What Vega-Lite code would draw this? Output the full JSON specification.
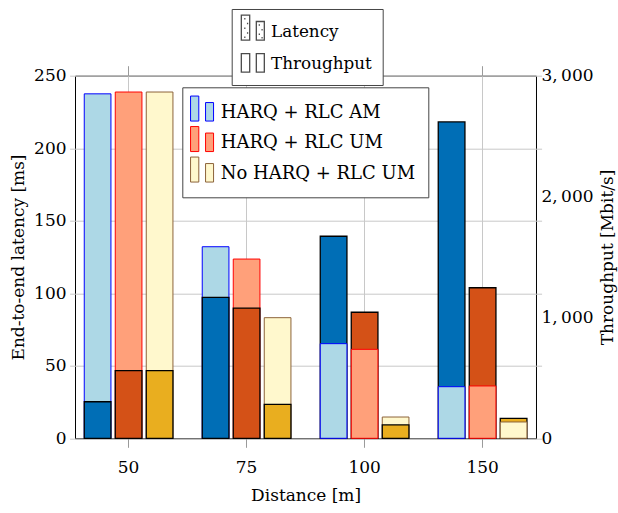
{
  "$schema": "https://vega.github.io/schema/vega-lite/v6.json",
  "width": 461,
  "height": 362.6,
  "autosize": {"type": "none"},
  "padding": {"left": 75, "top": 75.7, "right": 82, "bottom": 75},
  "background": "white",
  "config": {
    "font": "DejaVu Serif",
    "view": {"stroke": "black", "strokeWidth": 1},
    "axis": {
      "labelFont": "DejaVu Serif",
      "titleFont": "DejaVu Serif",
      "labelFontSize": 17,
      "titleFontSize": 17,
      "labelColor": "black",
      "titleColor": "black",
      "titleFontWeight": "normal",
      "domain": false,
      "gridColor": "#c8c8c8",
      "gridWidth": 1,
      "tickColor": "#9a9a9a"
    },
    "legend": {
      "labelFont": "DejaVu Serif",
      "labelFontSize": 18,
      "labelColor": "black",
      "labelLimit": 400,
      "strokeColor": "#444444",
      "fillColor": "white"
    }
  },
  "data": {
    "values": [
      {"distance": "50", "config": "HARQ + RLC AM", "latency": 25.2, "throughput": 2850},
      {"distance": "50", "config": "HARQ + RLC UM", "latency": 46.6, "throughput": 2865},
      {"distance": "50", "config": "No HARQ + RLC UM", "latency": 46.6, "throughput": 2865},
      {"distance": "75", "config": "HARQ + RLC AM", "latency": 97.2, "throughput": 1585},
      {"distance": "75", "config": "HARQ + RLC UM", "latency": 89.8, "throughput": 1483},
      {"distance": "75", "config": "No HARQ + RLC UM", "latency": 23.4, "throughput": 998},
      {"distance": "100", "config": "HARQ + RLC AM", "latency": 139.3, "throughput": 783},
      {"distance": "100", "config": "HARQ + RLC UM", "latency": 86.9, "throughput": 736},
      {"distance": "100", "config": "No HARQ + RLC UM", "latency": 9.2, "throughput": 176},
      {"distance": "150", "config": "HARQ + RLC AM", "latency": 218.1, "throughput": 427},
      {"distance": "150", "config": "HARQ + RLC UM", "latency": 103.8, "throughput": 433},
      {"distance": "150", "config": "No HARQ + RLC UM", "latency": 13.8, "throughput": 135}
    ]
  },
  "layer": [
    {
      "transform": [{"filter": "datum.throughput / 12 >= datum.latency"}],
      "mark": {"type": "bar", "xOffset": 4.3, "strokeWidth": 1},
      "encoding": {
        "x": {
          "field": "distance", "type": "nominal", "sort": ["50", "75", "100", "150"],
          "scale": {"range": [-5.4, 466.6], "paddingInner": 0, "paddingOuter": 0},
          "axis": {"orient": "bottom", "title": "Distance [m]", "labelAngle": 0, "grid": true, "ticks": true, "tickSize": 9, "labelPadding": 12, "titlePadding": 12}
        },
        "xOffset": {
          "field": "config", "type": "nominal",
          "sort": ["HARQ + RLC AM", "HARQ + RLC UM", "No HARQ + RLC UM"],
          "scale": {"paddingInner": 0.139, "paddingOuter": 0.4725}
        },
        "y": {
          "field": "throughput", "type": "quantitative",
          "scale": {"domain": [0, 3000], "nice": false},
          "axis": {"orient": "right", "title": "Throughput [Mbit/s]", "values": [0, 1000, 2000, 3000], "grid": false, "ticks": false, "labelPadding": 5, "titleAngle": 270, "titleBaseline": "top", "titlePadding": 6, "labelExpr": "replace(format(datum.value, ','), ',', ',\u2009')"}
        },
        "fill": {
          "field": "config", "type": "nominal",
          "scale": {"domain": ["HARQ + RLC AM", "HARQ + RLC UM", "No HARQ + RLC UM"], "range": ["#ADD8E6", "#FFA07A", "#FFF8CD"]},
          "legend": {"title": null, "orient": "none", "legendX": 107.3, "legendY": 11.6, "symbolType": "M-1.38,-1.34H-0.72V0.66H-1.38Z M-0.18,-0.82H0.46V0.66H-0.18Z", "symbolSize": 625, "symbolStrokeWidth": 1, "labelOffset": 0, "rowPadding": 0.5, "padding": 12.5}
        },
        "stroke": {
          "field": "config", "type": "nominal",
          "scale": {"domain": ["HARQ + RLC AM", "HARQ + RLC UM", "No HARQ + RLC UM"], "range": ["#0000FF", "#FF0000", "#8C6239"]},
          "legend": {"title": null, "orient": "none", "legendX": 107.3, "legendY": 11.6, "symbolType": "M-1.38,-1.34H-0.72V0.66H-1.38Z M-0.18,-0.82H0.46V0.66H-0.18Z", "symbolSize": 625, "symbolStrokeWidth": 1, "labelOffset": 0, "rowPadding": 0.5, "padding": 12.5}
        }
      }
    },
    {
      "mark": {"type": "bar", "stroke": "black", "strokeWidth": 1.3},
      "encoding": {
        "x": {
          "field": "distance", "type": "nominal", "sort": ["50", "75", "100", "150"],
          "axis": {"orient": "top", "labels": false, "title": null, "grid": false, "ticks": true, "tickSize": 10}
        },
        "xOffset": {
          "field": "config", "type": "nominal",
          "sort": ["HARQ + RLC AM", "HARQ + RLC UM", "No HARQ + RLC UM"]
        },
        "y": {
          "field": "latency", "type": "quantitative",
          "scale": {"domain": [0, 250], "nice": false},
          "axis": {"orient": "left", "title": "End-to-end latency [ms]", "values": [0, 50, 100, 150, 200, 250], "grid": true, "ticks": false, "labelPadding": 9, "titlePadding": 6}
        },
        "fill": {
          "condition": [
            {"test": "datum.config === 'HARQ + RLC AM'", "value": "#006EB6"},
            {"test": "datum.config === 'HARQ + RLC UM'", "value": "#D45117"}
          ],
          "value": "#E9AE1F"
        }
      }
    },
    {
      "transform": [{"filter": "datum.throughput / 12 < datum.latency"}],
      "mark": {"type": "bar", "xOffset": -4.3, "strokeWidth": 1},
      "encoding": {
        "x": {"field": "distance", "type": "nominal", "sort": ["50", "75", "100", "150"], "axis": null},
        "xOffset": {
          "field": "config", "type": "nominal",
          "sort": ["HARQ + RLC AM", "HARQ + RLC UM", "No HARQ + RLC UM"]
        },
        "y": {
          "field": "throughput", "type": "quantitative",
          "scale": {"domain": [0, 3000], "nice": false},
          "axis": null
        },
        "fill": {"field": "config", "type": "nominal", "legend": null},
        "stroke": {"field": "config", "type": "nominal", "legend": null}
      }
    },
    {
      "data": {"values": [{"metric": "Latency"}, {"metric": "Throughput"}]},
      "transform": [{"filter": "datum.metric === 'none'"}],
      "mark": {"type": "point", "filled": false, "color": "black", "strokeWidth": 1.3},
      "encoding": {
        "shape": {
          "field": "metric", "type": "nominal",
          "scale": {
            "domain": ["Latency", "Throughput"],
            "range": [
              "M-1.11,-1.39H-0.44V0.61H-1.11Z M0.09,-0.88H0.73V0.61H0.09Z M-0.88,-1.1h0.1 M-0.66,-0.72h0.1 M-0.88,-0.34h0.1 M-0.66,0.04h0.1 M-0.88,0.38h0.1 M0.28,-0.6h0.1 M0.5,-0.22h0.1 M0.28,0.14h0.1 M0.5,0.42h0.1",
              "M-1.11,-0.8H-0.44V0.67H-1.11Z M0.09,-0.8H0.73V0.67H0.09Z"
            ]
          },
          "legend": {
            "title": null, "orient": "none", "legendX": 156.7, "legendY": -66.7,
            "symbolSize": 625, "symbolStrokeWidth": 1.3, "symbolStrokeColor": "black",
            "labelFontSize": 16.8, "labelOffset": 2.3, "rowPadding": 7.2, "padding": 10
          }
        }
      }
    }
  ],
  "resolve": {
    "scale": {"y": "independent"},
    "axis": {"x": "independent", "y": "independent"}
  }
}
